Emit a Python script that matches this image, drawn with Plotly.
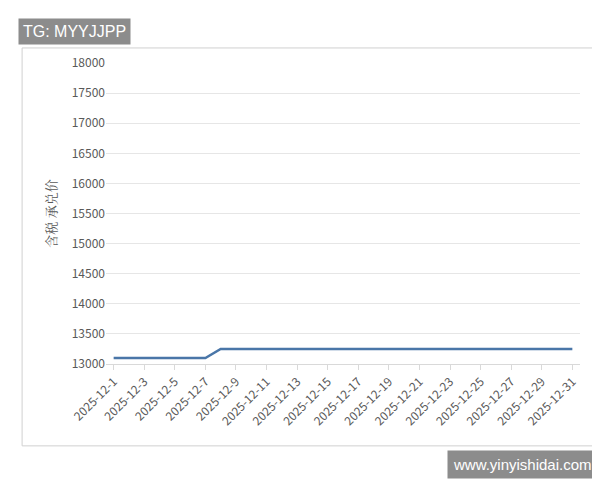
import plotly.graph_objects as go

dates = [f"2025-12-{d}" for d in range(1, 32)]
prices = [13100]*7 + [13250]*24
tick_labels = dates[::2]

fig = go.Figure(go.Scatter(x=dates, y=prices, mode="lines",
                           line=dict(color="#4a76a8", width=2.5)))
fig.update_layout(
    width=600, height=480, paper_bgcolor="white", plot_bgcolor="white",
    margin=dict(l=98, r=28, t=55, b=124, autoexpand=False), showlegend=False,
    font=dict(family="Noto Sans CJK SC, Noto Sans", color="#595959", size=12),
    shapes=[dict(type="rect", xref="paper", yref="paper", x0=-0.177, x1=1.027,
                 y0=-0.272, y1=1.05, line=dict(color="#d0d0d0", width=1))],
    annotations=[
        dict(text="TG: MYYJJPP", xref="paper", yref="paper", x=-0.186, y=1.15,
             xanchor="left", yanchor="top", showarrow=False, bgcolor="#8c8c8c",
             font=dict(color="white", size=16, family="Liberation Sans"), borderpad=4),
        dict(text="www.yinyishidai.com", xref="paper", yref="paper", x=1.038, y=-0.286,
             xanchor="right", yanchor="top", showarrow=False, bgcolor="#8c8c8c",
             font=dict(color="white", size=15, family="Liberation Sans"), borderpad=5),
    ],
)
fig.update_xaxes(type="category", range=[-0.5, 30.5], tickvals=tick_labels,
                 ticktext=tick_labels, tickangle=-45, showgrid=False,
                 showline=True, linecolor="#d9d9d9", ticks="outside",
                 tickcolor="#d9d9d9", tickfont=dict(size=12))
fig.update_yaxes(range=[13000, 18000], dtick=500, tickformat="d", showgrid=True,
                 gridcolor="#e6e6e6", zeroline=False, tickfont=dict(size=12),
                 title=dict(text="含税 承兑价", standoff=12,
                            font=dict(size=13, family="Noto Serif CJK SC, Noto Sans CJK SC")))
fig.write_html("out.html")
